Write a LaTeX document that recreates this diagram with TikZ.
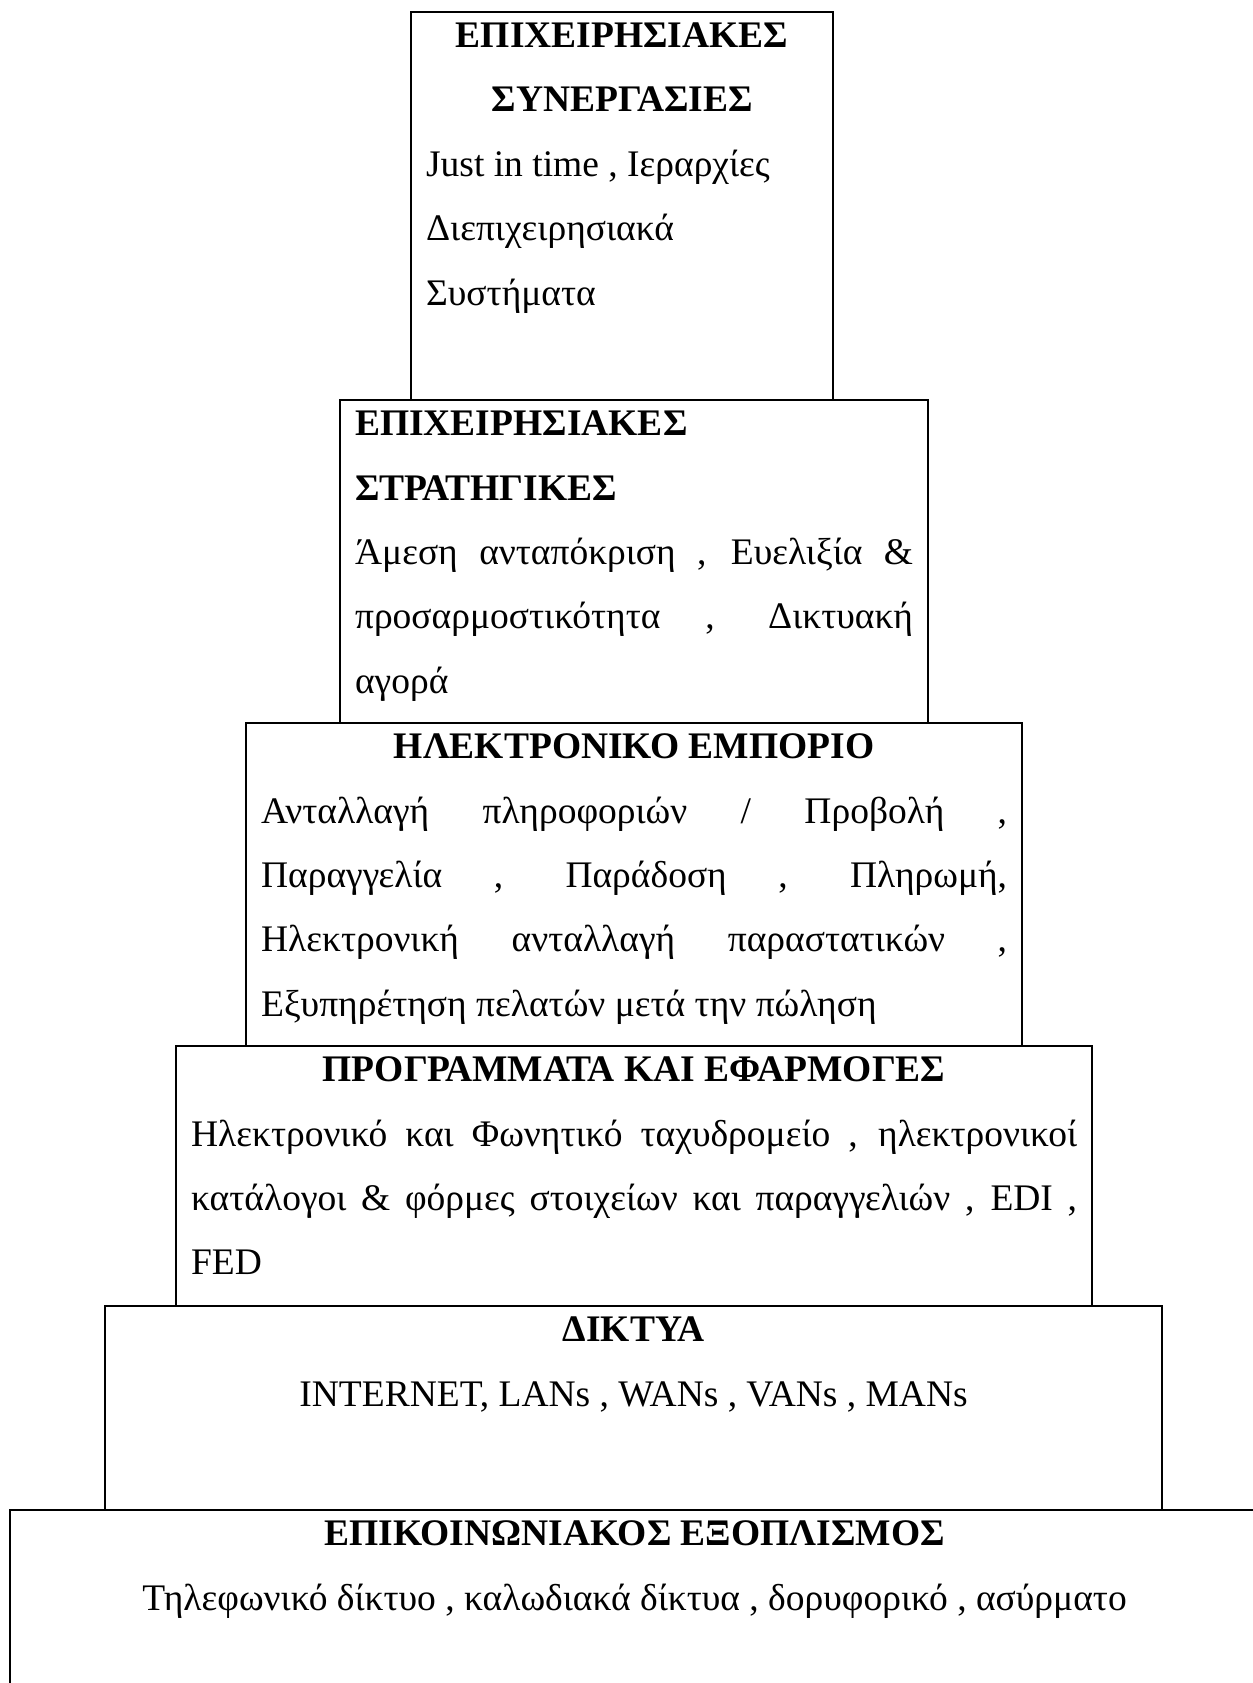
\documentclass[tikz,border=0pt]{standalone}
\usepackage{fontspec}
\setmainfont{Liberation Serif}
\usepackage{tikz}
\usetikzlibrary{positioning}
\setlength{\parindent}{0pt}
\tolerance=10000
\hbadness=10000

\begin{document}
\begin{tikzpicture}[x=0.32pt, y=-0.32pt,
  layer/.style={draw, line width=0.7pt, anchor=north west, inner sep=0pt},
  layertext/.style={anchor=north, inner sep=0pt, align=justify, font=\fontsize{12pt}{20.6pt}\selectfont}]
  \useasboundingbox (0,0) rectangle (1253,1683);

  % Layers, top to bottom
  \node[layer, minimum width=135.04pt, minimum height=124.16pt] (synergies) at (410,11) {};
  \node[layer, minimum width=188.16pt, minimum height=103.36pt] (strategies) at (339,399) {};
  \node[layer, minimum width=248.32pt, minimum height=103.36pt] (ecommerce) at (245,722) {};
  \node[layer, minimum width=293.12pt, minimum height=83.2pt] (applications) at (175,1045) {};
  \node[layer, minimum width=338.24pt, minimum height=65.28pt] (networks) at (104,1305) {};
  \node[layer, minimum width=399.68pt, minimum height=64pt] (equipment) at (9,1509) {};

  % Business synergies
  \node[layertext, text width=125.44pt] (synergiestext) at (synergies.north) {%
    {\centering\bfseries\rule{0pt}{11.52pt}ΕΠΙΧΕΙΡΗΣΙΑΚΕΣ\par ΣΥΝΕΡΓΑΣΙΕΣ\par}
    {\raggedright Just in time , Ιεραρχίες\newline Διεπιχειρησιακά\newline Συστήματα\par}};

  % Business strategies
  \node[layertext, text width=178.56pt] (strategiestext) at (strategies.north) {%
    {\bfseries\rule{0pt}{11.52pt}ΕΠΙΧΕΙΡΗΣΙΑΚΕΣ\newline ΣΤΡΑΤΗΓΙΚΕΣ\par}
    Άμεση ανταπόκριση , Ευελιξία \&\linebreak προσαρμοστικότητα , Δικτυακή\linebreak αγορά};

  % E-commerce
  \node[layertext, text width=238.72pt] (ecommercetext) at (ecommerce.north) {%
    {\centering\bfseries\rule{0pt}{11.52pt}ΗΛΕΚΤΡΟΝΙΚΟ ΕΜΠΟΡΙΟ\par}
    Ανταλλαγή πληροφοριών / Προβολή ,\linebreak Παραγγελία , Παράδοση , Πληρωμή,\linebreak
    Ηλεκτρονική ανταλλαγή παραστατικών ,\linebreak Εξυπηρέτηση πελατών μετά την πώληση};

  % Programs and applications
  \node[layertext, text width=283.52pt] (applicationstext) at (applications.north) {%
    {\centering\bfseries\rule{0pt}{11.52pt}ΠΡΟΓΡΑΜΜΑΤΑ ΚΑΙ ΕΦΑΡΜΟΓΕΣ\par}
    Ηλεκτρονικό και Φωνητικό ταχυδρομείο , ηλεκτρονικοί\linebreak
    κατάλογοι \& φόρμες στοιχείων και παραγγελιών , EDI ,\linebreak FED};

  % Networks
  \node[layertext, text width=328.64pt] (networkstext) at (networks.north) {%
    {\centering{\bfseries\rule{0pt}{11.52pt}ΔΙΚΤΥΑ}\par INTERNET, LANs , WANs , VANs , MANs\par}};

  % Communication equipment
  \node[layertext, text width=390.08pt] (equipmenttext) at (equipment.north) {%
    {\centering{\bfseries\rule{0pt}{11.52pt}ΕΠΙΚΟΙΝΩΝΙΑΚΟΣ ΕΞΟΠΛΙΣΜΟΣ}\par
    Τηλεφωνικό δίκτυο , καλωδιακά δίκτυα , δορυφορικό , ασύρματο\par}};
\end{tikzpicture}
\end{document}
